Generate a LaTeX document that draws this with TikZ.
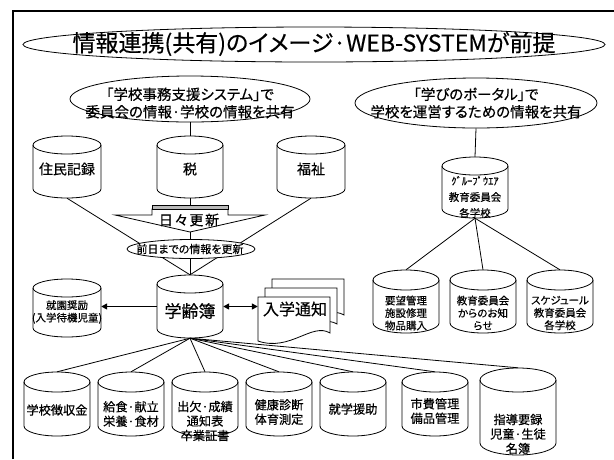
\documentclass[tikz,border=0pt]{standalone}
\usepackage{fontspec}
\setmainfont{Noto Sans CJK JP}[RawFeature=+palt, FakeBold=0.4]
\usetikzlibrary{shapes.geometric,arrows.meta,calc}

\newcommand\fsz[2]{\fontsize{#1}{#2}\selectfont}

\tikzset{
  link/.style={line width=0.8pt},
  bubble/.style={ellipse, draw, line width=0.8pt, fill=white, inner sep=0pt},
  txt/.style={inner sep=0pt, align=center},
  dbbox/.style={inner sep=0pt, rectangle},
  dbshape/.style={draw, fill=white, line width=0.8pt},
  tip/.tip={Triangle[length=6pt,width=6pt]},
  uniarrow/.style={line width=1.5pt, -tip},
  biarrow/.style={line width=1.5pt, tip-tip},
  topfont/.style={font=\fsz{14}{17}},
  bigfont/.style={font=\fsz{17}{20}},
  smallfont/.style={font=\fsz{10.5}{12.5}},
  rightfont/.style={font=\fsz{10.5}{12.5}},
  grpfont/.style={font=\fsz{10.5}{16}},
  rowfont/.style={font=\fsz{12.2}{14.5}},
}

% database cylinder: [text style]{name}{cx}{ytop}{ybottom}{half width}{cap radius}{text y}{text}
\newcommand\dbcyl[9][]{%
  \path[dbshape] (#3-#6,#4+#7) -- (#3-#6,#5-#7)
     arc[start angle=180,end angle=360,x radius=#6pt,y radius=#7pt]
     -- (#3+#6,#4+#7)
     arc[start angle=0,end angle=180,x radius=#6pt,y radius=#7pt] -- cycle;
  \draw[line width=0.8pt] (#3-#6,#4+#7)
     arc[start angle=180,end angle=360,x radius=#6pt,y radius=#7pt];
  \node[dbbox, minimum width=2*#6pt, minimum height=(#5-#4)*1pt] (#2) at (#3,{(#4+#5)/2}) {};
  \node[txt,#1] (#2-t) at (#3,#8) {#9};
}

% one sheet of the document stack, shifted by (dx,dy)
\newcommand\docsheet[2]{%
  \path[dbshape] (258+#1,297+#2) -- (330+#1,297+#2) -- (330+#1,333+#2)
     .. controls (312+#1,322+#2) and (290+#1,352+#2) .. (258+#1,341+#2) -- cycle;
}

\begin{document}
\begin{tikzpicture}[x=1pt,y=-1pt]
\useasboundingbox (0,0) rectangle (614,459);

% slide frame
\draw[line width=2pt] (13,459) -- (13,11) -- (614,11);

% heading
\node[bubble, minimum width=582pt, minimum height=35pt] (titleE) at (314,44.5) {};
\node[txt, font=\fsz{23}{27}] (title) at (314,44) {情報連携(共有)のイメージ·WEB-SYSTEMが前提};

% callouts
\node[bubble, minimum width=240pt, minimum height=46pt] (callL) at (190,99) {};
\node[txt, font=\fsz{14.5}{17.5}] (callL-t) at (190,103) {「学校事務支援システム」で\\委員会の情報·学校の情報を共有};
\node[bubble, minimum width=242pt, minimum height=50pt] (callR) at (476,103) {};
\node[txt, font=\fsz{14.5}{17.5}] (callR-t) at (476,103) {「学びのポータル」で\\学校を運営するための情報を共有};

% upper databases
\dbcyl[topfont]{jumin}{67}{136}{198}{34}{9}{169}{住民記録}
\dbcyl[topfont]{zei}{190}{136}{198}{33}{9}{169}{税}
\dbcyl[topfont]{fukushi}{311}{136}{198}{34}{9}{169}{福祉}

% central register and neighbours
\dbcyl[bigfont]{gakurei}{190}{275}{338}{33}{9}{311}{学齢簿}
\dbcyl[smallfont]{shuen}{67}{279}{337}{34}{9}{312}{就園奨励\\(入学待機児童)}

% document stack
\docsheet{14}{-18}
\docsheet{7}{-9}
\docsheet{0}{0}
\node[dbbox, minimum width=72pt, minimum height=44pt] (doc) at (294,319) {};
\node[txt, font=\fsz{16}{19}] (doc-t) at (295,309) {入学通知};

% groupware side
\dbcyl[grpfont]{group}{475}{157}{218}{33}{9}{197}{ｸﾞﾙｰﾌﾟｳｴｱ\\教育委員会\\各学校}
\dbcyl[rightfont]{youbou}{406}{270}{333}{33}{10}{313}{要望管理\\施設修理\\物品購入}
\dbcyl[rightfont]{oshirase}{483}{270}{333}{33}{10}{313}{教育委員会\\からのお知\\らせ}
\dbcyl[rightfont]{schedule}{560}{270}{333}{33}{10}{313}{スケジュール\\教育委員会\\各学校}

% lower databases
\dbcyl[rowfont]{choushu}{57}{372}{436}{33}{10}{410}{学校徴収金}
\dbcyl[rowfont]{kyushoku}{131}{372}{436}{33}{10}{414}{給食·献立\\栄養·食材}
\dbcyl[rowfont]{shukketsu}{205}{372}{436}{33}{10}{421}{出欠·成績\\通知表\\卒業証書}
\dbcyl[rowfont]{kenko}{279}{372}{436}{33}{10}{412}{健康診断\\体育測定}
\dbcyl[rowfont]{shugaku}{353}{372}{436}{33}{10}{409}{就学援助}
\dbcyl[rowfont]{shihi}{435}{372}{436}{33}{10}{411}{市費管理\\備品管理}
\dbcyl[rowfont]{shido}{518}{368}{455}{38}{12}{434}{指導要録\\児童·生徒\\名簿}

% connectors
\draw[link] (callL.south) -- (zei.north);
\draw[link] (callR.south) -- (group.north);
\foreach \n in {jumin,zei,fukushi} \draw[link] (\n.south) -- (gakurei.north);
\foreach \n in {choushu,kyushoku,shukketsu,kenko,shugaku,shihi,shido}
  \draw[link] (gakurei.south) -- (\n.north);
\foreach \n in {youbou,oshirase,schedule} \draw[link] (group.south) -- (\n.north);
\draw[uniarrow] (gakurei.west) -- (gakurei.west -| shuen.east);
\draw[biarrow] (gakurei.east) -- (gakurei.east -| doc.west);

% daily update block arrow
\filldraw[fill=white, draw=black, line width=0.8pt]
  (152,209) -- (152,215) -- (115,215) -- (190,232) -- (265,215) -- (228,215) -- (228,209) -- cycle;
\filldraw[fill=gray!55, draw=black, line width=0.7pt] (152,205) rectangle (228,209);
\node[txt, font=\fsz{14}{16}\addfontfeatures{LetterSpace=12}] (daily) at (189,220) {日々更新};

% update bubble
\node[bubble, minimum width=128pt, minimum height=19pt] (prev) at (191,249) {};
\node[txt, font=\fsz{11}{13}] (prev-t) at (190,249) {前日までの情報を更新};
\end{tikzpicture}
\end{document}
